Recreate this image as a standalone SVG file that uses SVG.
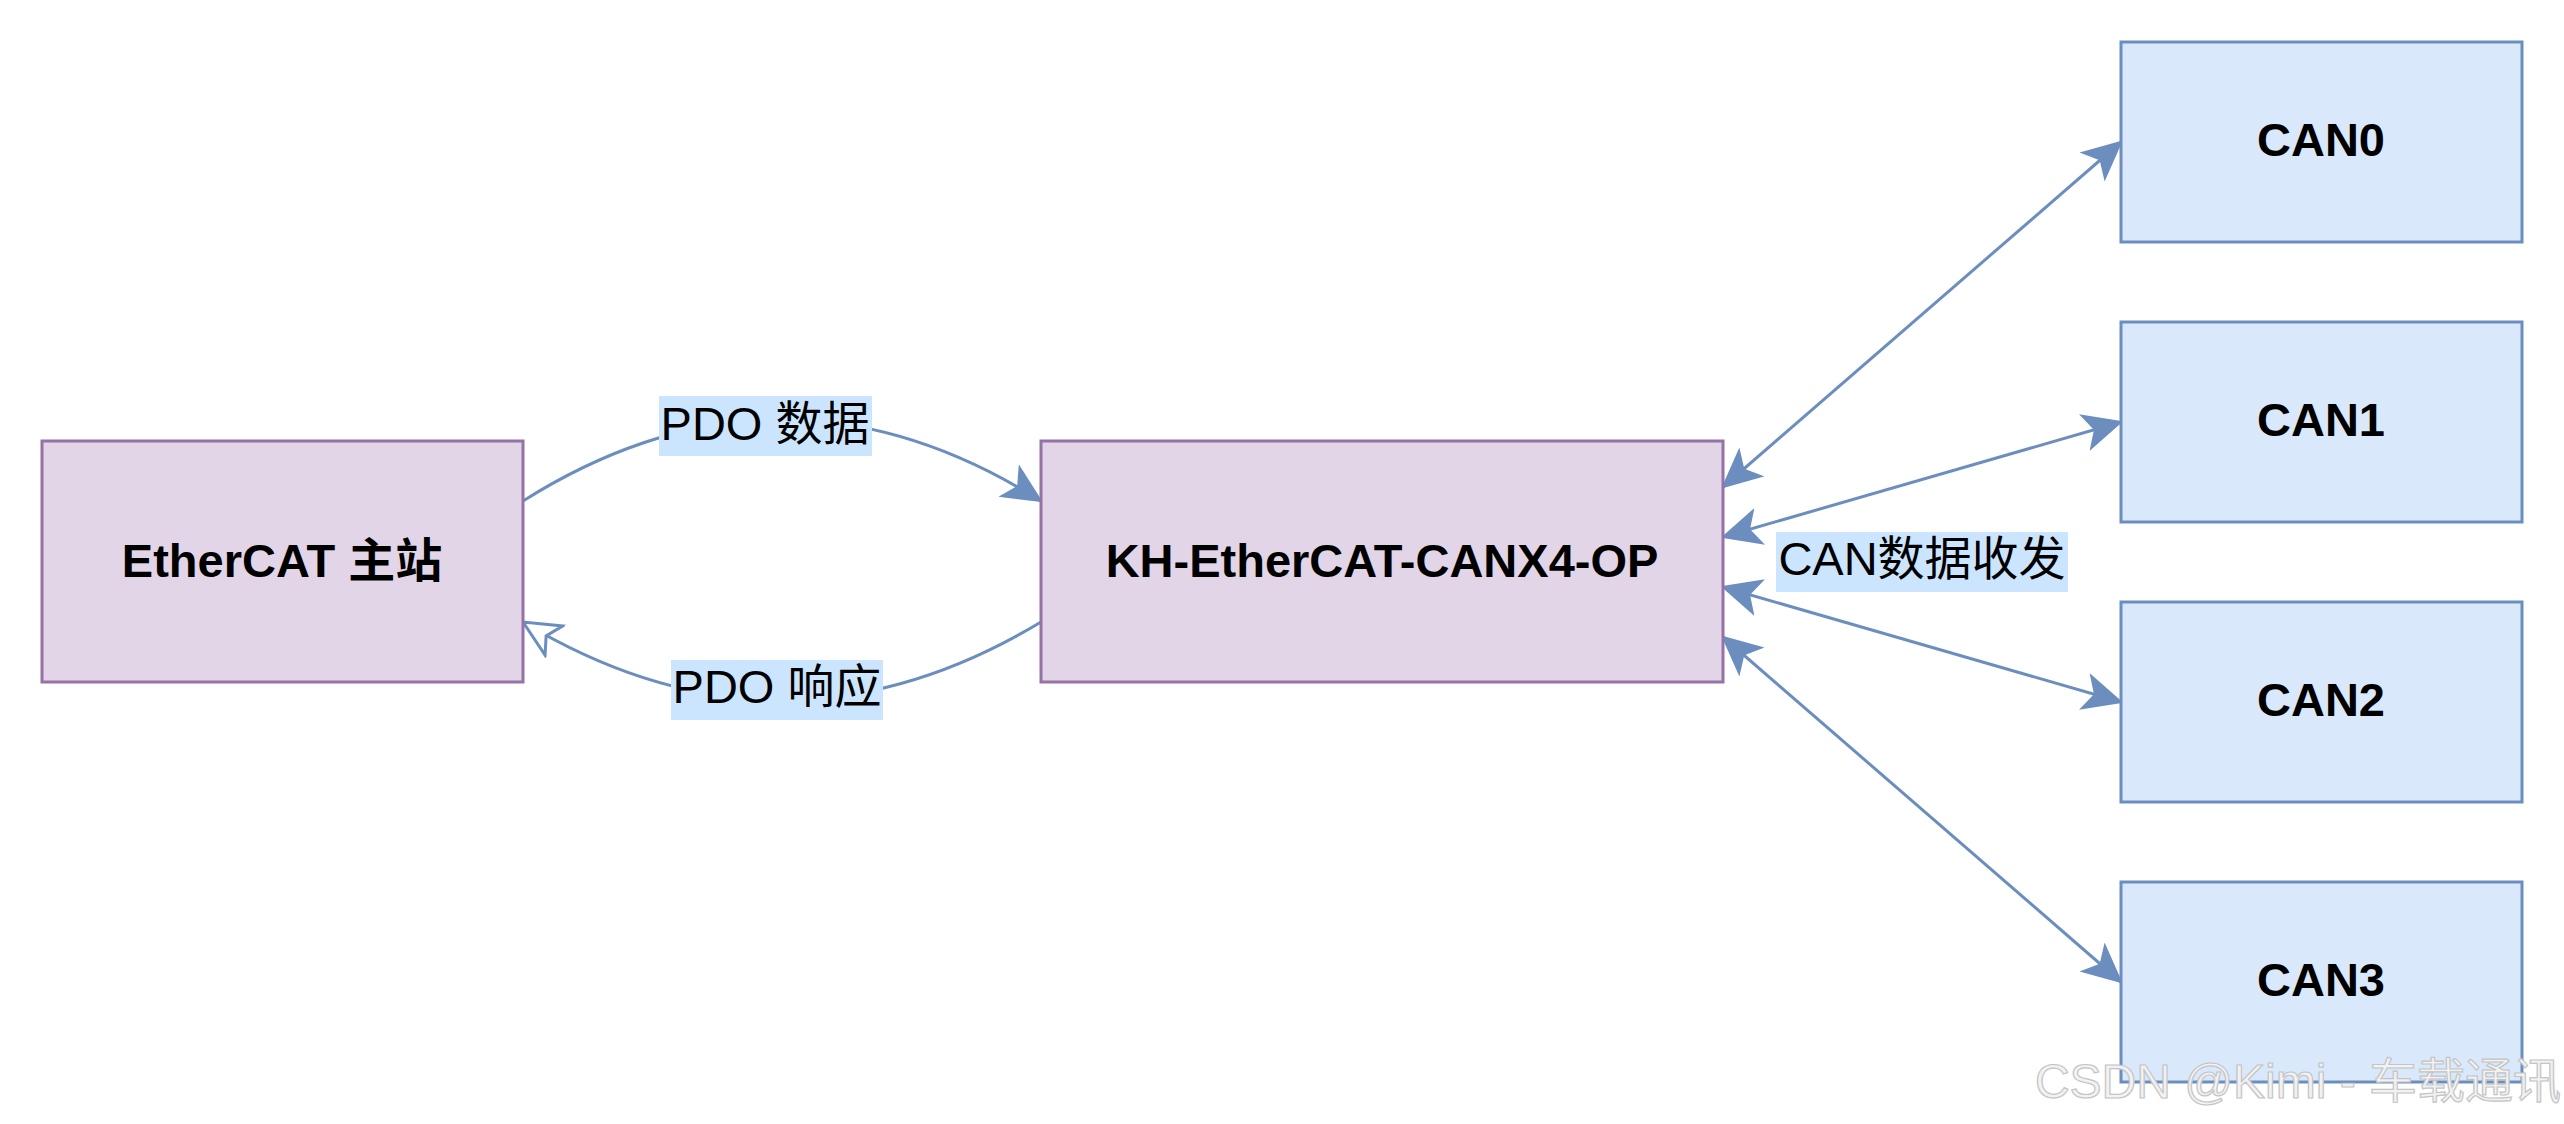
<svg xmlns="http://www.w3.org/2000/svg" width="2564" height="1124" viewBox="0 0 2564 1124">
<style>
.purple{fill:#e1d5e7;stroke:#9673a6;stroke-width:3}
.blue{fill:#dae8fc;stroke:#6c8ebf;stroke-width:3}
.nt{font-family:"Liberation Sans","Noto Sans CJK SC",sans-serif;font-weight:bold;font-size:47px;fill:#000;text-anchor:middle}
.lt{font-family:"Liberation Sans","Noto Sans CJK SC",sans-serif;font-size:47px;fill:#000;text-anchor:middle}
.lbg{fill:#cce5ff}
.edge{fill:none;stroke:#6c8ebf;stroke-width:3}
.wm{font-family:"Liberation Sans","Noto Sans CJK SC",sans-serif;font-size:48px;fill:#f2f2f2;stroke:#c4c4c4;stroke-width:1.2;text-anchor:end}
</style>
<defs>
<marker id="arr" viewBox="-2 -20 40 40" refX="36" refY="0" markerWidth="40" markerHeight="40" markerUnits="userSpaceOnUse" orient="auto-start-reverse">
<path d="M36,0 L0,-17 L9,0 L0,17 Z" fill="#6c8ebf" stroke="#6c8ebf" stroke-width="2"/>
</marker>
<marker id="open" viewBox="-2 -20 40 40" refX="36" refY="0" markerWidth="40" markerHeight="40" markerUnits="userSpaceOnUse" orient="auto">
<path d="M36,0 L0,-17 L9,0 L0,17 Z" fill="#fff" stroke="#6c8ebf" stroke-width="3"/>
</marker>
</defs>
<rect width="2564" height="1124" fill="#fff"/>
<g id="connectors">
<path class="edge" d="M523,501 Q782,338 1041,501" marker-end="url(#arr)"/>
<path class="edge" d="M1041,622 Q782,778 523,622" marker-end="url(#open)"/>
<path class="edge" d="M1723,487 L2121,142" marker-start="url(#arr)" marker-end="url(#arr)"/>
<path class="edge" d="M1723,537 L2121,422" marker-start="url(#arr)" marker-end="url(#arr)"/>
<path class="edge" d="M1723,587 L2121,702" marker-start="url(#arr)" marker-end="url(#arr)"/>
<path class="edge" d="M1723,637 L2121,982" marker-start="url(#arr)" marker-end="url(#arr)"/>
<g id="label-pdo-data">
<rect class="lbg" x="659" y="396" width="213" height="60"/>
<text class="lt" x="765" y="440">PDO 数据</text>
</g>
<g id="label-pdo-resp">
<rect class="lbg" x="671" y="660" width="212" height="60"/>
<text class="lt" x="777" y="703">PDO 响应</text>
</g>
<g id="label-can">
<rect class="lbg" x="1776" y="532" width="292" height="60"/>
<text class="lt" x="1922" y="575">CAN数据收发</text>
</g>
</g>
<g id="master">
<rect class="purple" x="42" y="441" width="481" height="241"/>
<text class="nt" x="282" y="577">EtherCAT 主站</text>
</g>
<g id="gateway">
<rect class="purple" x="1041" y="441" width="682" height="241"/>
<text class="nt" x="1382" y="577">KH-EtherCAT-CANX4-OP</text>
</g>
<g id="can0">
<rect class="blue" x="2121" y="42" width="401" height="200"/>
<text class="nt" x="2321" y="156">CAN0</text>
</g>
<g id="can1">
<rect class="blue" x="2121" y="322" width="401" height="200"/>
<text class="nt" x="2321" y="436">CAN1</text>
</g>
<g id="can2">
<rect class="blue" x="2121" y="602" width="401" height="200"/>
<text class="nt" x="2321" y="716">CAN2</text>
</g>
<g id="can3">
<rect class="blue" x="2121" y="882" width="401" height="200"/>
<text class="nt" x="2321" y="996">CAN3</text>
</g>
<text class="wm" x="2561" y="1098">CSDN @Kimi - 车载通讯</text>
</svg>
